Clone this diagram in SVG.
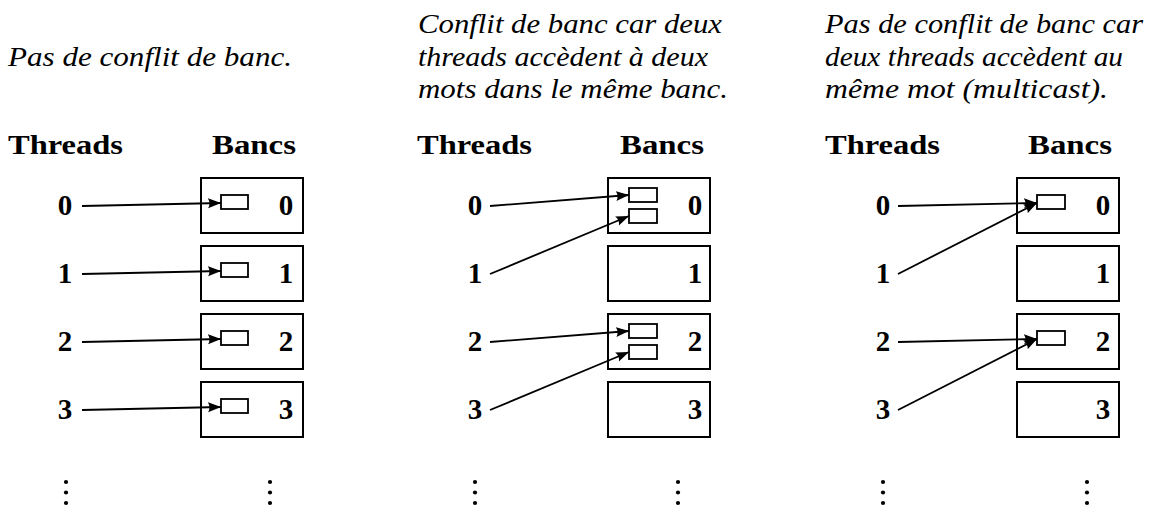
<svg xmlns="http://www.w3.org/2000/svg" width="1152" height="506" viewBox="0 0 1152 506">
<defs>
<marker id="ah" markerUnits="userSpaceOnUse" markerWidth="14" markerHeight="12" refX="13" refY="6" orient="auto">
<path d="M0,1 L13,6 L0,11 Q3,6 0,1 Z" fill="#000"/>
</marker>
<style>
.cap{font-family:"Liberation Serif",serif;font-style:italic;font-size:28px;fill:#000}
.hd{font-family:"Liberation Serif",serif;font-weight:bold;font-size:28px;fill:#000}
.num{font-family:"Liberation Serif",serif;font-weight:bold;font-size:29px;fill:#000;text-anchor:middle}
.bank{fill:#fff;stroke:#000;stroke-width:2}
.word{fill:#fff;stroke:#000;stroke-width:1.8}
.conn line{stroke:#000;stroke-width:1.8;marker-end:url(#ah)}
.dot{fill:#000}
</style>
</defs>
<rect width="1152" height="506" fill="#fff"/>

<!-- Captions -->
<text class="cap" x="8" y="66" textLength="284" lengthAdjust="spacingAndGlyphs">Pas de conflit de banc.</text>
<text class="cap" x="418" y="33" textLength="304" lengthAdjust="spacingAndGlyphs">Conflit de banc car deux</text>
<text class="cap" x="418" y="66" textLength="290" lengthAdjust="spacingAndGlyphs">threads accèdent à deux</text>
<text class="cap" x="418" y="98" textLength="310" lengthAdjust="spacingAndGlyphs">mots dans le même banc.</text>
<text class="cap" x="825" y="33" textLength="318" lengthAdjust="spacingAndGlyphs">Pas de conflit de banc car</text>
<text class="cap" x="825" y="66" textLength="298" lengthAdjust="spacingAndGlyphs">deux threads accèdent au</text>
<text class="cap" x="825" y="98" textLength="283" lengthAdjust="spacingAndGlyphs">même mot (multicast).</text>

<!-- Headers -->
<text class="hd" x="8" y="154" textLength="115" lengthAdjust="spacingAndGlyphs">Threads</text>
<text class="hd" x="212" y="154" textLength="84" lengthAdjust="spacingAndGlyphs">Bancs</text>
<text class="hd" x="417" y="154" textLength="115" lengthAdjust="spacingAndGlyphs">Threads</text>
<text class="hd" x="620" y="154" textLength="84" lengthAdjust="spacingAndGlyphs">Bancs</text>
<text class="hd" x="825" y="154" textLength="115" lengthAdjust="spacingAndGlyphs">Threads</text>
<text class="hd" x="1028" y="154" textLength="84" lengthAdjust="spacingAndGlyphs">Bancs</text>

<!-- Panel 1 -->
<g id="p1-threads">
<text class="num" x="65" y="215">0</text>
<text class="num" x="65" y="283">1</text>
<text class="num" x="65" y="351">2</text>
<text class="num" x="65" y="419">3</text>
</g>
<g id="p1-bank0"><rect class="bank" x="201" y="178" width="102" height="55"/><rect class="word" x="221" y="195" width="27" height="14"/><text class="num" x="286" y="215">0</text></g>
<g id="p1-bank1"><rect class="bank" x="201" y="246" width="102" height="55"/><rect class="word" x="221" y="263" width="27" height="14"/><text class="num" x="286" y="283">1</text></g>
<g id="p1-bank2"><rect class="bank" x="201" y="314" width="102" height="55"/><rect class="word" x="221" y="331" width="27" height="14"/><text class="num" x="286" y="351">2</text></g>
<g id="p1-bank3"><rect class="bank" x="201" y="382" width="102" height="55"/><rect class="word" x="221" y="399" width="27" height="14"/><text class="num" x="286" y="419">3</text></g>

<!-- Panel 2 -->
<g id="p2-threads">
<text class="num" x="475" y="215">0</text>
<text class="num" x="475" y="283">1</text>
<text class="num" x="475" y="351">2</text>
<text class="num" x="475" y="419">3</text>
</g>
<g id="p2-bank0"><rect class="bank" x="608" y="178" width="102" height="55"/><rect class="word" x="629" y="188" width="28" height="14"/><rect class="word" x="629" y="209" width="28" height="14"/><text class="num" x="695" y="215">0</text></g>
<g id="p2-bank1"><rect class="bank" x="608" y="246" width="102" height="55"/><text class="num" x="695" y="283">1</text></g>
<g id="p2-bank2"><rect class="bank" x="608" y="314" width="102" height="55"/><rect class="word" x="629" y="324" width="28" height="14"/><rect class="word" x="629" y="345" width="28" height="14"/><text class="num" x="695" y="351">2</text></g>
<g id="p2-bank3"><rect class="bank" x="608" y="382" width="102" height="55"/><text class="num" x="695" y="419">3</text></g>

<!-- Panel 3 -->
<g id="p3-threads">
<text class="num" x="883" y="215">0</text>
<text class="num" x="883" y="283">1</text>
<text class="num" x="883" y="351">2</text>
<text class="num" x="883" y="419">3</text>
</g>
<g id="p3-bank0"><rect class="bank" x="1017" y="178" width="102" height="55"/><rect class="word" x="1037" y="195" width="28" height="14"/><text class="num" x="1103" y="215">0</text></g>
<g id="p3-bank1"><rect class="bank" x="1017" y="246" width="102" height="55"/><text class="num" x="1103" y="283">1</text></g>
<g id="p3-bank2"><rect class="bank" x="1017" y="314" width="102" height="55"/><rect class="word" x="1037" y="331" width="28" height="14"/><text class="num" x="1103" y="351">2</text></g>
<g id="p3-bank3"><rect class="bank" x="1017" y="382" width="102" height="55"/><text class="num" x="1103" y="419">3</text></g>

<!-- Connectors -->
<g id="connectors" class="conn">
<line x1="82" y1="206" x2="221" y2="203"/>
<line x1="82" y1="274" x2="221" y2="271"/>
<line x1="82" y1="342" x2="221" y2="339"/>
<line x1="82" y1="410" x2="221" y2="407"/>
<line x1="490" y1="206" x2="629" y2="195"/>
<line x1="490" y1="274" x2="629" y2="216"/>
<line x1="490" y1="342" x2="629" y2="331"/>
<line x1="490" y1="410" x2="629" y2="352"/>
<line x1="898" y1="206" x2="1037" y2="203"/>
<line x1="898" y1="274" x2="1037" y2="203"/>
<line x1="898" y1="342" x2="1037" y2="339"/>
<line x1="898" y1="410" x2="1037" y2="339"/>
</g>

<!-- Vertical dots -->
<g id="dots" class="dot">
<circle cx="66" cy="482" r="2.1"/><circle cx="66" cy="492.5" r="2.1"/><circle cx="66" cy="503" r="2.1"/>
<circle cx="270" cy="482" r="2.1"/><circle cx="270" cy="492.5" r="2.1"/><circle cx="270" cy="503" r="2.1"/>
<circle cx="475" cy="482" r="2.1"/><circle cx="475" cy="492.5" r="2.1"/><circle cx="475" cy="503" r="2.1"/>
<circle cx="678" cy="482" r="2.1"/><circle cx="678" cy="492.5" r="2.1"/><circle cx="678" cy="503" r="2.1"/>
<circle cx="883" cy="482" r="2.1"/><circle cx="883" cy="492.5" r="2.1"/><circle cx="883" cy="503" r="2.1"/>
<circle cx="1087" cy="482" r="2.1"/><circle cx="1087" cy="492.5" r="2.1"/><circle cx="1087" cy="503" r="2.1"/>
</g>
</svg>
